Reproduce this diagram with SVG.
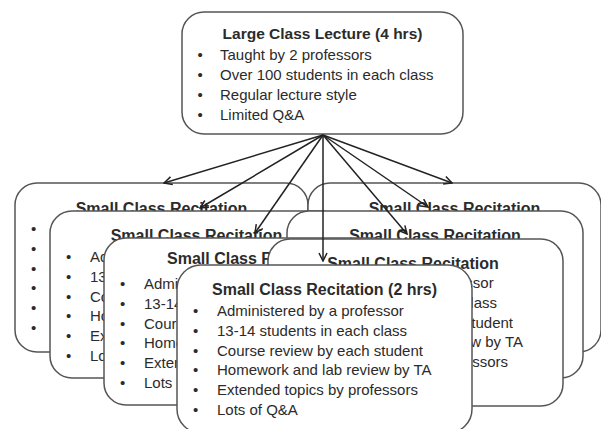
<svg xmlns="http://www.w3.org/2000/svg" width="601" height="429" viewBox="0 0 601 429">
<style>
.box{fill:#fff;stroke:#555;stroke-width:1.5}
text{font-family:"Liberation Sans",Arial,sans-serif;fill:#2b2b2b}
.t{font-size:16px;font-weight:bold;text-anchor:middle}
.ts{font-size:16px;font-weight:bold}
.tt{font-size:15.5px;font-weight:bold;text-anchor:middle}
.i{font-size:15px}
.e{font-size:15px;text-anchor:end}
.b{font-size:15px}
.con line{stroke:#222;stroke-width:1.5;marker-end:url(#ah)}
</style>
<defs>
<marker id="ah" viewBox="0 0 10 10" refX="9" refY="5" markerWidth="10" markerHeight="10" markerUnits="userSpaceOnUse" orient="auto">
<path d="M1,1 L9,5 L1,9" fill="none" stroke="#222" stroke-width="1.5"/>
</marker>
</defs>
<rect width="601" height="429" fill="#fff"/>

<g id="recitation-L1" transform="translate(15,183)">
<rect class="box" x="0" y="0" width="293" height="169" rx="22"/>
<text class="t" x="146.5" y="31">Small Class Recitation</text>
<text class="b" x="16" y="51">•</text>
<text class="b" x="16" y="70.8">•</text>
<text class="b" x="16" y="90.6">•</text>
<text class="b" x="16" y="110.4">•</text>
<text class="b" x="16" y="130.2">•</text>
<text class="b" x="16" y="150">•</text>
</g>

<g id="recitation-R1" transform="translate(308,183)">
<rect class="box" x="0" y="0" width="293" height="169" rx="22"/>
<text class="t" x="146.5" y="30.5">Small Class Recitation</text>
</g>

<g id="recitation-L2" transform="translate(50,211)">
<rect class="box" x="0" y="0" width="293" height="167" rx="22"/>
<text class="t" x="146.5" y="29.5">Small Class Recitation</text>
<text class="b" x="16" y="51">•</text>
<text class="b" x="16" y="70.8">•</text>
<text class="b" x="16" y="90.6">•</text>
<text class="b" x="16" y="110.4">•</text>
<text class="b" x="16" y="130.2">•</text>
<text class="b" x="16" y="150">•</text>
<text class="i" x="40" y="51">Ad</text>
<text class="i" x="40" y="70.8">13</text>
<text class="i" x="40" y="90.6">Co</text>
<text class="i" x="40" y="110.4">Ho</text>
<text class="i" x="40" y="130.2">Ex</text>
<text class="i" x="40" y="150">Lo</text>
</g>

<g id="recitation-R2" transform="translate(287,211)">
<rect class="box" x="0" y="0" width="296" height="167" rx="22"/>
<text class="t" x="148" y="30">Small Class Recitation</text>
</g>

<g id="recitation-L3" transform="translate(104,238)">
<rect class="box" x="0" y="0" width="293" height="167" rx="22"/>
<text class="ts" x="63" y="25.5">Small Class R</text>
<text class="b" x="16" y="51">•</text>
<text class="b" x="16" y="70.8">•</text>
<text class="b" x="16" y="90.6">•</text>
<text class="b" x="16" y="110.4">•</text>
<text class="b" x="16" y="130.2">•</text>
<text class="b" x="16" y="150">•</text>
<text class="i" x="40" y="51">Admi</text>
<text class="i" x="40" y="70.8">13-14</text>
<text class="i" x="40" y="90.6">Cours</text>
<text class="i" x="40" y="110.4">Home</text>
<text class="i" x="40" y="130.2">Exten</text>
<text class="i" x="40" y="150">Lots</text>
</g>

<g id="recitation-R3" transform="translate(268,239)">
<rect class="box" x="0" y="0" width="295" height="167" rx="22"/>
<text class="t" x="145" y="30">Small Class Recitation</text>
<text class="e" x="225.7" y="49">essor</text>
<text class="e" x="229" y="68.8">class</text>
<text class="e" x="245" y="88.6">student</text>
<text class="e" x="255" y="108.4">ew by TA</text>
<text class="e" x="240" y="128.2">essors</text>
</g>

<g id="recitation-front" transform="translate(177,265)">
<rect class="box" x="0" y="0" width="295" height="168" rx="24"/>
<text class="t" x="147.5" y="30">Small Class Recitation (2 hrs)</text>
<text class="b" x="16" y="51">•</text>
<text class="b" x="16" y="70.8">•</text>
<text class="b" x="16" y="90.6">•</text>
<text class="b" x="16" y="110.4">•</text>
<text class="b" x="16" y="130.2">•</text>
<text class="b" x="16" y="150">•</text>
<text class="i" x="40" y="51">Administered by a professor</text>
<text class="i" x="40" y="70.8">13-14 students in each class</text>
<text class="i" x="40" y="90.6">Course review by each student</text>
<text class="i" x="40" y="110.4">Homework and lab review by TA</text>
<text class="i" x="40" y="130.2">Extended topics by professors</text>
<text class="i" x="40" y="150">Lots of Q&amp;A</text>
</g>

<g id="lecture">
<rect class="box" x="182" y="12" width="281" height="122" rx="22"/>
<text class="tt" x="322.5" y="39">Large Class Lecture (4 hrs)</text>
<text class="b" x="197.5" y="60">•</text>
<text class="b" x="197.5" y="80">•</text>
<text class="b" x="197.5" y="100">•</text>
<text class="b" x="197.5" y="120">•</text>
<text class="i" x="220" y="60">Taught by 2 professors</text>
<text class="i" x="220" y="80">Over 100 students in each class</text>
<text class="i" x="220" y="100">Regular lecture style</text>
<text class="i" x="220" y="120">Limited Q&amp;A</text>
</g>

<g id="connectors" class="con">
<line x1="323" y1="135" x2="164" y2="183"/>
<line x1="323" y1="135" x2="200" y2="208"/>
<line x1="323" y1="135" x2="255" y2="233"/>
<line x1="323" y1="135" x2="323" y2="261"/>
<line x1="323" y1="135" x2="407" y2="234"/>
<line x1="323" y1="135" x2="428" y2="207"/>
<line x1="323" y1="135" x2="452" y2="183"/>
</g>
</svg>
